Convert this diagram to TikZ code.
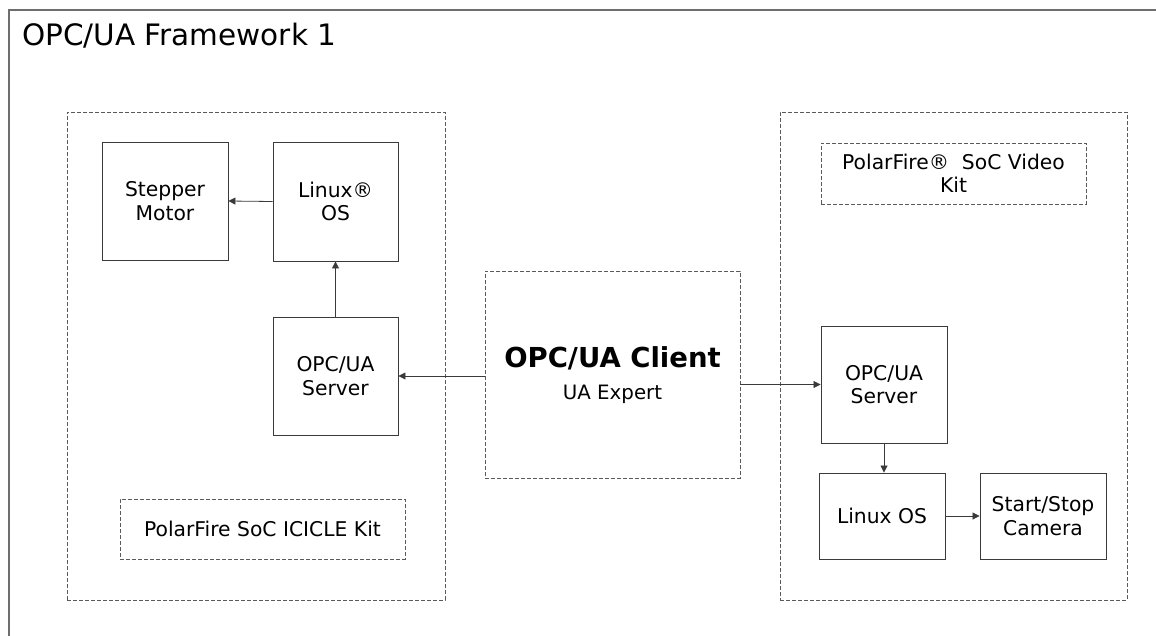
\documentclass[tikz,border=0pt]{standalone}
\usepackage{fontspec}
\setmainfont{DejaVu Sans}
\usetikzlibrary{arrows.meta}
\definecolor{boxline}{HTML}{3A3A3A}
\definecolor{dashline}{HTML}{5A5A5A}
\definecolor{frameline}{HTML}{6E6E6E}
\begin{document}
\begin{tikzpicture}[x=1pt,y=-1pt,
  box/.style={draw=boxline,line width=0.9pt,rectangle,align=center,inner sep=0pt,
    font=\fontsize{20.3}{23.5}\selectfont},
  grp/.style={draw=dashline,line width=0.8pt,dash pattern=on 4pt off 2pt,rectangle,
    inner sep=0pt,align=center,font=\fontsize{20.3}{23.5}\selectfont},
  arr/.style={draw=boxline,line width=0.8pt,-{Triangle[length=7pt,width=7pt]}},
  frame/.style={draw=frameline,line width=1.5pt}
]
\useasboundingbox (0,0) rectangle (1156,635);
\fill[white] (0,0) rectangle (1156,635);
\draw[frame] (9,640) -- (9,10) -- (1160,10);
\node[anchor=base west,inner sep=0pt,font=\fontsize{29.5}{34}\selectfont] (title) at (22,45) {OPC/UA Framework 1};

% groups
\node[grp,minimum width=378pt,minimum height=488pt] (leftgrp) at (256,356) {};
\node[grp,minimum width=347pt,minimum height=488pt] (rightgrp) at (953.5,356) {};

% left side
\node[box,minimum width=126pt,minimum height=118pt] (stepper) at (165,201) {Stepper\\Motor};
\node[box,minimum width=125pt,minimum height=119pt] (linuxL) at (335.5,201.5) {Linux®\\OS};
\node[box,minimum width=125pt,minimum height=118pt] (serverL) at (335.5,376) {OPC/UA\\Server};
\node[grp,minimum width=285pt,minimum height=60pt] (icicle) at (262.5,529) {PolarFire SoC ICICLE Kit};

% client
\node[grp,minimum width=255pt,minimum height=207pt] (client) at (612.5,374.5) {};
\node[inner sep=0pt,anchor=base,font=\fontsize{27.5}{32}\selectfont\bfseries] (clientT) at (612.5,367) {OPC/UA Client};
\node[inner sep=0pt,anchor=base,font=\fontsize{19.8}{23}\selectfont] (clientS) at (612.5,399) {UA Expert};

% right side
\node[grp,minimum width=265pt,minimum height=61pt] (videokit) at (953.5,173.5) {PolarFire®\ \ SoC Video\\Kit};
\node[box,minimum width=126pt,minimum height=117pt] (serverR) at (884,384.5) {OPC/UA\\Server};
\node[box,minimum width=126pt,minimum height=86pt] (linuxR) at (882,516) {Linux OS};
\node[box,minimum width=126pt,minimum height=86pt] (camera) at (1043,516) {Start/Stop\\Camera};

% connectors
\draw[arr] (linuxL.west) -- (stepper.east);
\draw[arr] (serverL.north) -- (linuxL.south);
\draw[arr] (client.west |- serverL.east) -- (serverL.east);
\draw[arr] (client.east |- serverR.west) -- (serverR.west);
\draw[arr] (serverR.south) -- (serverR.south |- linuxR.north);
\draw[arr] (linuxR.east) -- (camera.west);
\end{tikzpicture}
\end{document}
